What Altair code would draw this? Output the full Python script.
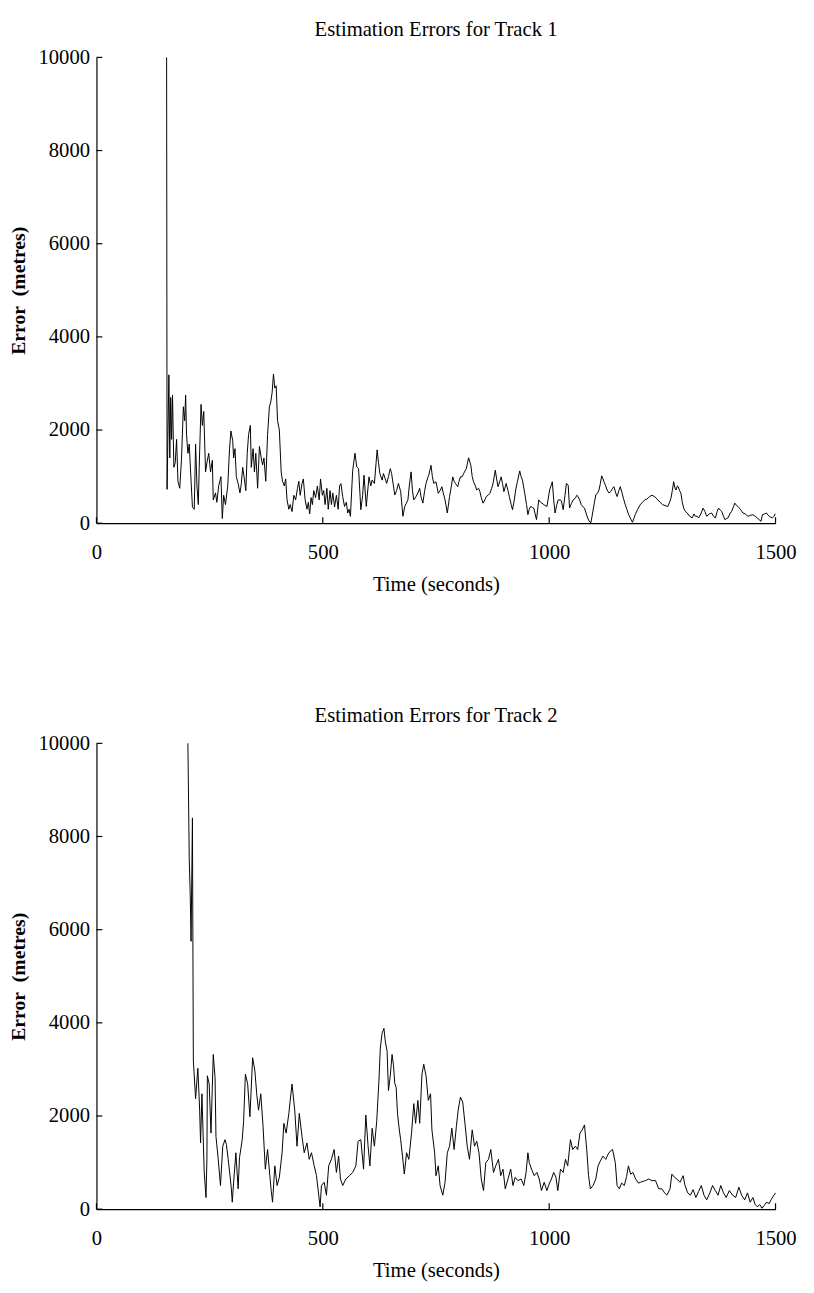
import altair as alt
import pandas as pd

# ---------------- data ----------------
x_ticks = [0, 500, 1000, 1500]
y_ticks = [0, 2000, 4000, 6000, 8000, 10000]

titles = ["Estimation Errors for Track 1", "Estimation Errors for Track 2"]

t1 = [155,156,160,162,164,166,168,171,174,177,180,184,188,192,195,197,199,202,205,208,212,216,219,222,225,227,231,234,237,241,244,248,252,256,258,263,266,270,275,278,281,285,290,294,297,301,303,306,309,313,317,320,323,326,330,333,336,340,342,346,349,352,356,360,364,367,370,374,378,382,385,388,391,394,397,400,404,408,411,415,418,421,425,428,432,436,440,444,447,450,454,457,461,465,468,471,474,477,480,484,488,492,495,499,502,505,509,512,516,519,522,526,530,534,537,540,544,548,552,555,558,561,566,571,575,579,584,588,591,596,602,606,609,614,620,623,626,631,634,638,641,645,649,652,656,659,663,667,672,677,681,684,688,691,695,698,701,706,710,714,717,721,725,728,731,734,739,742,745,750,755,759,763,766,770,775,780,784,787,790,793,798,801,804,808,811,817,822,827,830,833,837,840,844,847,850,854,858,861,865,869,873,876,881,884,887,891,894,897,900,905,909,912,916,919,923,926,930,935,938,941,946,950,953,956,959,963,966,969,972,977,981,984,988,991,995,1001,1004,1007,1010,1013,1017,1020,1024,1027,1031,1035,1038,1042,1045,1049,1053,1058,1061,1064,1068,1071,1075,1078,1082,1085,1088,1092,1096,1100,1103,1107,1110,1113,1116,1119,1121,1125,1128,1132,1136,1140,1143,1147,1150,1154,1157,1161,1164,1168,1172,1175,1179,1184,1187,1190,1195,1201,1206,1211,1216,1222,1227,1233,1236,1240,1245,1251,1256,1262,1266,1269,1272,1275,1278,1280,1283,1285,1288,1291,1294,1297,1301,1305,1310,1316,1320,1323,1327,1330,1335,1340,1344,1348,1354,1359,1363,1367,1371,1374,1378,1381,1385,1388,1392,1395,1399,1403,1407,1410,1414,1417,1422,1428,1433,1439,1445,1450,1455,1460,1465,1468,1471,1476,1480,1483,1486,1490,1493,1497,1499]
v1 = [10000,727,3185,1400,2700,1800,2750,1200,1300,1800,900,750,1400,2500,2200,2750,1900,1500,1700,1100,350,300,1700,800,400,1200,2550,2100,2400,1100,1300,1500,1100,1350,500,650,450,800,1000,100,600,400,800,1600,1980,1770,1400,1600,1000,850,650,850,1200,1000,700,1500,1900,2100,1200,1600,1100,1500,750,1650,1400,1250,1400,900,1900,2500,2600,2800,3200,2900,2950,2200,2000,1100,900,800,950,500,300,400,250,600,500,750,900,600,850,950,500,300,450,200,550,400,700,550,800,500,950,600,700,400,750,300,700,400,650,350,600,300,800,850,570,360,450,219,300,148,1137,1504,1208,1170,290,600,1031,360,995,800,925,854,1575,1300,1066,925,1066,950,854,1000,1172,1066,800,607,700,854,678,148,360,420,501,800,1102,700,501,572,650,748,560,431,700,854,950,1031,1243,1000,854,890,642,700,784,650,501,219,572,800,995,900,854,784,900,995,1000,1066,1172,1405,1243,1000,890,800,713,750,678,550,431,500,572,600,642,750,854,1137,950,784,900,995,850,678,854,700,572,400,290,500,713,900,1123,1000,925,642,400,183,300,360,340,325,200,77,501,450,431,400,380,360,713,800,890,500,219,400,501,501,480,290,600,854,819,325,420,501,540,600,572,480,395,350,325,200,113,50,5,219,450,607,650,713,850,1017,950,890,800,713,650,678,750,784,650,572,700,784,650,537,400,290,200,113,21,100,183,290,395,450,501,520,572,600,572,540,501,450,395,380,360,450,537,700,890,750,713,800,784,700,642,450,325,250,219,150,113,200,148,150,113,200,325,250,148,200,219,150,113,250,325,280,254,150,77,100,113,200,254,350,431,380,360,300,219,200,148,170,183,150,113,60,42,183,200,219,180,148,130,113,150,205]

t2 = [202,205,207,209,212,214,219,224,228,230,233,238,242,244,245,249,253,258,262,264,269,274,279,284,287,291,295,298,300,303,308,313,316,322,325,329,334,339,345,350,354,358,363,368,373,378,383,386,389,394,399,404,410,414,419,425,428,432,438,443,448,454,459,465,470,475,481,486,491,494,497,503,508,513,519,525,530,535,539,544,551,559,566,573,578,584,590,595,600,604,609,614,619,624,627,631,635,638,642,645,649,653,656,659,662,665,669,672,676,680,685,690,696,701,705,710,714,719,723,728,733,738,741,747,750,755,759,765,770,775,780,785,790,795,799,804,809,814,819,824,830,835,840,845,850,855,860,866,871,877,882,888,893,898,903,909,915,920,925,931,938,944,949,953,956,961,967,973,978,983,989,995,1000,1005,1010,1015,1019,1025,1031,1036,1041,1047,1052,1058,1063,1068,1073,1078,1083,1087,1091,1097,1103,1108,1113,1119,1125,1130,1135,1140,1146,1150,1155,1160,1166,1171,1175,1180,1185,1191,1197,1202,1208,1213,1220,1227,1235,1242,1249,1255,1260,1267,1271,1277,1282,1289,1296,1300,1306,1312,1318,1324,1330,1336,1342,1348,1355,1361,1367,1373,1379,1385,1391,1398,1405,1412,1419,1425,1432,1438,1444,1450,1455,1460,1465,1470,1475,1480,1486,1490,1495,1500]
v2 = [10000,7500,6800,5750,8400,3200,2371,3025,2125,1422,2477,800,250,1070,2864,2688,1633,3321,2829,1563,1070,508,1352,1492,1387,1070,719,437,150,578,1211,437,1105,1492,1879,2899,2688,1985,3250,2969,2477,2125,2477,1774,859,1281,719,400,150,930,508,684,1211,1844,1633,2055,2336,2688,2125,1352,2055,1563,1211,1422,1070,1211,930,719,300,50,508,578,300,930,1070,1281,789,1140,648,508,648,719,789,930,1457,1492,859,2020,1352,930,1738,1352,1879,2758,3461,3778,3883,3602,3391,2547,2864,3321,3100,2700,2617,2055,1700,1492,1140,754,1211,1070,1633,2266,1844,2336,1844,2899,3110,2864,2336,2477,1703,1211,719,930,508,300,578,1211,1352,1738,1281,1774,2125,2407,2301,1844,1352,1070,1703,1352,1457,1211,648,400,1000,1070,1281,789,930,1070,719,859,437,648,859,508,684,613,648,508,789,1211,1000,859,719,789,648,400,578,400,543,648,789,684,400,859,789,1070,930,1492,1281,1352,1281,1633,1703,1809,1281,719,437,508,648,930,1035,1140,1070,1180,1246,1281,1000,508,437,560,508,700,930,750,789,648,560,578,600,613,648,613,613,437,437,350,300,437,754,684,648,578,719,508,350,300,420,250,380,508,300,200,350,508,400,300,508,350,250,400,300,250,473,300,200,350,150,250,100,50,100,20,80,150,120,200,280,350]

# ---------------- layout ----------------
W, H = 691, 474
FONT = "Liberation Serif"


def panel(t, v, title):
    df = pd.DataFrame({"t": t, "v": v})
    xenc = alt.X(
        "t:Q",
        scale=alt.Scale(domain=[0, 1500], nice=False, zero=False),
        axis=alt.Axis(values=x_ticks, title="Time (seconds)", ticks=False,
                      grid=False, labelPadding=19, titlePadding=11,
                      labelFlush=False, format="d"),
    )
    yenc = alt.Y(
        "v:Q",
        scale=alt.Scale(domain=[0, 10000], nice=False),
        axis=alt.Axis(values=y_ticks, title="Error\u00a0 (metres)", ticks=False,
                      grid=False, labelPadding=7, titlePadding=10,
                      titleFontWeight="bold", titleFontSize=20, format="d"),
    )
    line = alt.Chart(df).mark_line(color="black", strokeWidth=1).encode(x=xenc, y=yenc)
    yt = alt.Chart(pd.DataFrame({"v": y_ticks})).mark_rule(color="black", strokeWidth=1.2).encode(
        y=yenc, x=alt.value(0), x2=alt.value(6))
    xt = alt.Chart(pd.DataFrame({"t": x_ticks})).mark_rule(color="black", strokeWidth=1.2).encode(
        x=xenc, y=alt.value(H), y2=alt.value(H - 6))
    return alt.layer(line, yt, xt).properties(
        width=W, height=H,
        title=alt.TitleParams(title, font=FONT, fontSize=21, fontWeight="normal",
                              anchor="middle", frame="group", offset=-10,
                              baseline="alphabetic", color="black"),
    )


chart = alt.vconcat(
    panel(t1, v1, titles[0]),
    panel(t2, v2, titles[1]),
    spacing=113,
).properties(
    padding={"left": 0, "top": 0, "right": 10, "bottom": 0}
).configure_view(stroke=None).configure_axis(
    labelFont=FONT, titleFont=FONT, labelFontSize=21, labelColor="black",
    titleColor="black", domainColor="black", domainWidth=1.2,
    titleFontWeight="normal",
).configure_axisX(titleFontSize=21)

chart.save("out.html", embed_options={"renderer": "svg", "actions": False})
